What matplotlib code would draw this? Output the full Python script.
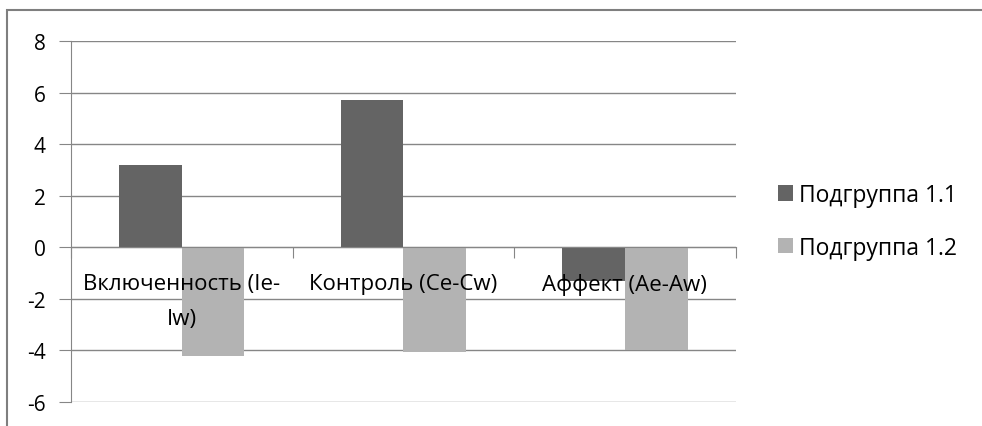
import matplotlib.pyplot as plt
from matplotlib.patches import Rectangle
from matplotlib.transforms import offset_copy
import numpy as np

categories = ["Включенность (Ie-\nIw)", "Контроль (Ce-Cw)", "Аффект (Ae-Aw)"]
series_names = ["Подгруппа 1.1", "Подгруппа 1.2"]
sub_1_1 = [3.2, 5.7, -1.3]
sub_1_2 = [-4.2, -4.05, -4.0]
yticks = [-6, -4, -2, 0, 2, 4, 6, 8]

dark = "#646464"
light = "#b3b3b3"
grid_col = "#868686"

plt.rcParams['font.family'] = ['Open Sans', 'DejaVu Sans']

fig = plt.figure(figsize=(9.82, 4.27), dpi=100)
ax = fig.add_axes([0.0723, 0.0562, 0.6769, 0.8454])

# outer chart border (cropped at right and bottom)
fig.patches.append(Rectangle((7 / 982, -0.05), 1.1, 1 - 11 / 427 + 0.05,
                             transform=fig.transFigure, fill=False,
                             edgecolor="#7f7f7f", linewidth=1.5))

x = np.arange(len(categories))
w = 0.283
ax.bar(x - w / 2, sub_1_1, width=w, color=dark, label=series_names[0], zorder=3)
ax.bar(x + w / 2, sub_1_2, width=w, color=light, label=series_names[1], zorder=3)

ax.set_xlim(-0.5, len(categories) - 0.5)
ax.set_ylim(-6, 8)
ax.set_yticks(yticks)
ax.set_yticklabels([str(t) for t in yticks], fontsize=15)
ax.yaxis.grid(True, color=grid_col, linewidth=1)
ax.set_axisbelow(True)

for s in ['top', 'right']:
    ax.spines[s].set_visible(False)
ax.spines['left'].set_color(grid_col)
ax.spines['bottom'].set_position(('data', 0))
ax.spines['bottom'].set_color(grid_col)
ax.spines['bottom'].set_zorder(4)

ax.set_xticks(np.arange(len(categories) + 1) - 0.5)
ax.set_xticklabels([])
ax.tick_params(axis='x', direction='out', length=8, color=grid_col)
ax.tick_params(axis='y', direction='out', length=9, color=grid_col, pad=9)

# category labels sit just under the zero line
lab_tr = offset_copy(ax.transData, fig=fig, x=0, y=-18.5, units='points')
for i, c in enumerate(categories):
    ax.text(i, 0, c, transform=lab_tr, ha='center', va='top', fontsize=16,
            linespacing=1.9, zorder=5, clip_on=False)

fig.legend(loc='center left', bbox_to_anchor=(778 / 982, 0.479), frameon=False,
           fontsize=16.5, handlelength=0.66, handleheight=0.66, handletextpad=0.27,
           labelspacing=1.25, borderpad=0, borderaxespad=0)

fig.savefig("out.png", dpi=100)
